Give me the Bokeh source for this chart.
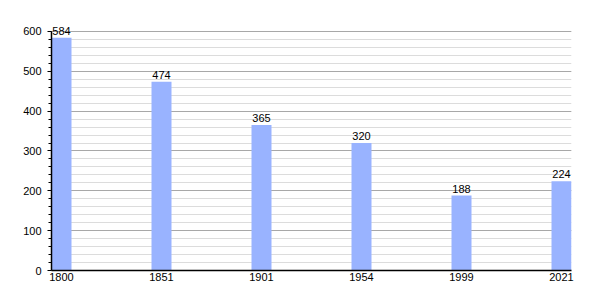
from bokeh.plotting import figure
from bokeh.models import ColumnDataSource, FixedTicker, SingleIntervalTicker, Range1d, LabelSet
from bokeh.core.properties import value
from bokeh.embed import file_html
from bokeh.resources import INLINE

years = ["1800", "1851", "1901", "1954", "1999", "2021"]
population = [584, 474, 365, 320, 188, 224]

xs = list(range(len(years)))
src = ColumnDataSource(dict(x=xs, top=population, label=[str(v) for v in population]))

p = figure(width=600, height=300, output_backend="svg", toolbar_location=None,
           x_range=Range1d(-0.1, 5.1), y_range=Range1d(0, 630),
           min_border_left=51, min_border_right=29, min_border_top=19, min_border_bottom=30)
p.outline_line_color = None
p.background_fill_color = "white"

p.vbar(x="x", top="top", width=0.2, bottom=0, source=src, fill_color="#99B3FF", line_color=None)

labels = LabelSet(x="x", y="top", text="label", source=src, text_align="center",
                  text_baseline="bottom", y_offset=3, text_font=value("Liberation Sans"),
                  text_font_size=value("11px"), text_color="black")
p.add_layout(labels)

p.xgrid.grid_line_color = None
p.ygrid.grid_line_color = "#a8a8a8"
p.ygrid.minor_grid_line_color = "#dcdcdc"
p.ygrid.ticker = SingleIntervalTicker(interval=100, num_minor_ticks=5)
p.ygrid.bounds = (0, 600)

for ax in (p.xaxis, p.yaxis):
    ax.axis_line_color = "black"
    ax.axis_line_width = 1.5
    ax.major_label_text_font = "Liberation Sans"
    ax.major_label_text_font_size = "11px"
    ax.major_label_text_color = "black"
    ax.major_tick_line_color = "black"
    ax.minor_tick_line_color = "black"

p.yaxis.ticker = SingleIntervalTicker(interval=100, num_minor_ticks=5)
p.yaxis.bounds = (0, 600)
p.yaxis.major_tick_out = 4
p.yaxis.major_tick_in = 0
p.yaxis.minor_tick_out = 3
p.yaxis.minor_tick_in = 0
p.yaxis.major_label_standoff = 6

p.xaxis.ticker = FixedTicker(ticks=xs)
p.xaxis.major_label_overrides = {i: y for i, y in enumerate(years)}
p.xaxis.major_tick_out = 0
p.xaxis.major_tick_in = 0
p.xaxis.minor_tick_out = 0
p.xaxis.major_label_standoff = 2

open("out.html", "w").write(file_html(p, INLINE))
